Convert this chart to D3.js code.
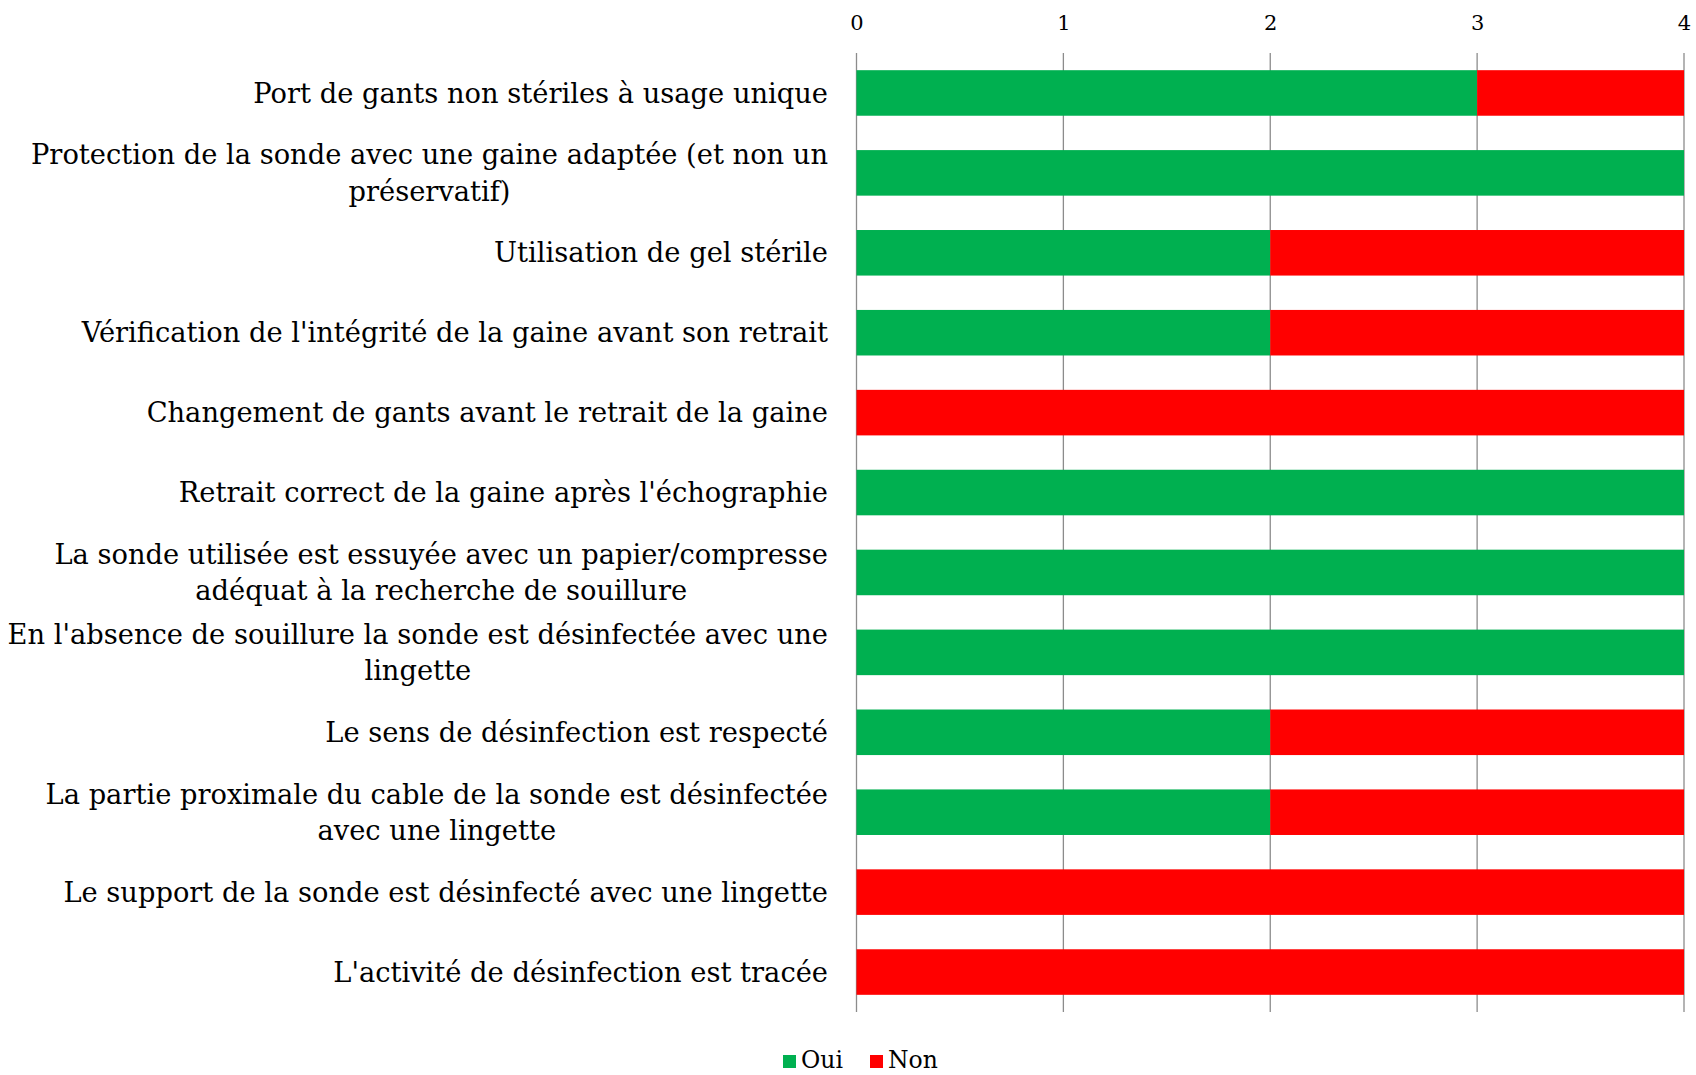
<!DOCTYPE html>
<html>
<head>
<meta charset="utf-8">
<script src="https://cdn.jsdelivr.net/npm/d3@7"></script>
<style>
  body { margin: 0; background: #fff; }
  text { font-family: "DejaVu Serif", Georgia, serif; fill: #000; }
</style>
</head>
<body>
<script>
// largeur et hauteur
var w = 1696;
var h = 1075;

// libellés (les retours à la ligne sont ceux du graphique)
var categories = [
    "Port de gants non stériles à usage unique",
    "Protection de la sonde avec une gaine adaptée (et non un\npréservatif)",
    "Utilisation de gel stérile",
    "Vérification de l'intégrité de la gaine avant son retrait",
    "Changement de gants avant le retrait de la gaine",
    "Retrait correct de la gaine après l'échographie",
    "La sonde utilisée est essuyée avec un papier/compresse\nadéquat à la recherche de souillure",
    "En l'absence de souillure la sonde est désinfectée avec une\nlingette",
    "Le sens de désinfection est respecté",
    "La partie proximale du cable de la sonde est désinfectée\navec une lingette",
    "Le support de la sonde est désinfecté avec une lingette",
    "L'activité de désinfection est tracée"
];
var oui = [3, 4, 2, 2, 0, 4, 4, 4, 2, 2, 0, 0];
var non = [1, 0, 2, 2, 4, 0, 0, 0, 2, 2, 4, 4];
var seriesNames = ["Oui", "Non"];
var seriesColors = ["#00B050", "#FF0000"];
var ticks = [0, 1, 2, 3, 4];

var plotLeft = 856.5, plotRight = 1684, plotTop = 53, plotBottom = 1012;

var svg = d3.select("body").append("svg")
    .attr("width", w)
    .attr("height", h);

var xScale = d3.scaleLinear().domain([0, 4]).range([plotLeft, plotRight]);
var yScale = d3.scaleBand().domain(d3.range(categories.length))
    .range([plotTop, plotBottom]).paddingInner(0.43).paddingOuter(0.215);

// grille verticale
svg.append("g").selectAll("line")
    .data(ticks)
    .enter().append("line")
    .attr("x1", function(d) { return xScale(d); })
    .attr("x2", function(d) { return xScale(d); })
    .attr("y1", plotTop)
    .attr("y2", plotBottom)
    .attr("stroke", "#8c8c8c")
    .attr("stroke-width", 1.3);

// axe du haut (seulement les libellés)
var xAxis = d3.axisTop(xScale).tickValues(ticks).tickSize(0).tickPadding(0).tickFormat(d3.format("d"));
var gx = svg.append("g")
    .attr("transform", "translate(0,30)")
    .call(xAxis);
gx.select(".domain").remove();
gx.selectAll("text")
    .style("font-family", "\"DejaVu Serif\", serif")
    .style("font-size", "21px")
    .attr("fill", "#000");

// barres empilées
var rows = categories.map(function(c, i) { return { i: i, Oui: oui[i], Non: non[i] }; });
var stacked = d3.stack().keys(seriesNames)(rows);

svg.append("g").selectAll("g")
    .data(stacked)
    .enter().append("g")
    .attr("fill", function(d, k) { return seriesColors[k]; })
    .selectAll("rect")
    .data(function(d) { return d; })
    .enter().append("rect")
    .attr("x", function(d) { return xScale(d[0]); })
    .attr("width", function(d) { return xScale(d[1]) - xScale(d[0]); })
    .attr("y", function(d) { return yScale(d.data.i); })
    .attr("height", yScale.bandwidth());

// libellés des catégories
var labelX = 828;
var lineH = 36.5;
var labels = svg.append("g").selectAll("text")
    .data(categories)
    .enter().append("text")
    .attr("font-size", "27.3px")
    .attr("text-anchor", "middle");

labels.each(function(d, i) {
    var t = d3.select(this);
    var lines = d.split("\n");
    var cy = yScale(i) + yScale.bandwidth() / 2;
    var y0 = cy - (lines.length - 1) * lineH / 2;
    lines.forEach(function(l, k) {
        t.append("tspan").attr("y", y0 + k * lineH).attr("dy", "0.35em").text(l);
    });
    // bloc aligné à droite, lignes centrées entre elles
    var widths = [];
    t.selectAll("tspan").each(function() { widths.push(this.getComputedTextLength()); });
    var maxW = d3.max(widths);
    t.selectAll("tspan").attr("x", labelX - maxW / 2);
});

// légende
var legend = svg.append("g").attr("transform", "translate(0,1060)");
var legX = [783, 870];
seriesNames.forEach(function(s, k) {
    legend.append("rect")
        .attr("x", legX[k]).attr("y", -5)
        .attr("width", 13).attr("height", 13)
        .attr("fill", seriesColors[k]);
    legend.append("text")
        .attr("x", legX[k] + 18).attr("y", 0).attr("dy", "0.35em")
        .attr("font-size", "23.5px")
        .text(s);
});
</script>
</body>
</html>
